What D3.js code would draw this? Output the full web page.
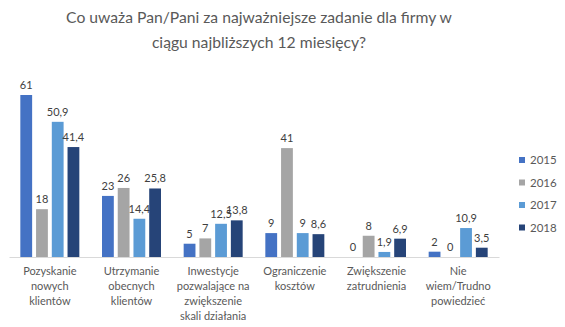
<!DOCTYPE html>
<html>
<head>
<meta charset="utf-8">
<script src="https://cdn.jsdelivr.net/npm/d3@7/dist/d3.min.js"></script>
<style>
  html, body { margin: 0; padding: 0; background: #fff; }
  svg { display: block; font-family: Lato, "Open Sans", sans-serif; }
</style>
</head>
<body>
<svg id="chart" width="565" height="327"></svg>
<script>
const titleLines = ["Co uważa Pan/Pani za najważniejsze zadanie dla firmy w", "ciągu najbliższych 12 miesięcy?"];
const categories = [
  ["Pozyskanie", "nowych", "klientów"],
  ["Utrzymanie", "obecnych", "klientów"],
  ["Inwestycje", "pozwalające na", "zwiększenie", "skali działania"],
  ["Ograniczenie", "kosztów"],
  ["Zwiększenie", "zatrudnienia"],
  ["Nie", "wiem/Trudno", "powiedzieć"]
];
const years = ["2015", "2016", "2017", "2018"];
const colors = ["#4472C4", "#A5A5A5", "#5B9BD5", "#264478"];
const values2015 = [61, 23, 5, 9, 0, 2];
const values2016 = [18, 26, 7, 41, 8, 0];
const values2017 = [50.9, 14.4, 12.5, 9, 1.9, 10.9];
const values2018 = [41.4, 25.8, 13.8, 8.6, 6.9, 3.5];
const series = [values2015, values2016, values2017, values2018];

const svg = d3.select("#chart");
const baseline = 257;

const x0 = d3.scaleBand().domain(d3.range(categories.length)).range([9, 499]);
const x1 = d3.scaleBand().domain(d3.range(years.length)).range([0, 59]).paddingInner(0.25);
const groupOffset = (x0.bandwidth() - 59) / 2;
const y = d3.scaleLinear().domain([0, 61]).range([baseline, 95]);

const fmt = v => String(v).replace(".", ",");

// title
svg.append("g").selectAll("text").data(titleLines).join("text")
  .attr("x", 259).attr("y", (d, i) => 23 + i * 25)
  .attr("text-anchor", "middle")
  .attr("font-size", 15.7).attr("fill", "#595959")
  .text(d => d);

// bars and value labels
const groups = svg.append("g").selectAll("g").data(categories).join("g")
  .attr("transform", (d, i) => `translate(${x0(i) + groupOffset},0)`);

groups.each(function (c, ci) {
  const g = d3.select(this);
  series.forEach((vals, si) => {
    const v = vals[ci];
    g.append("rect")
      .attr("x", x1(si)).attr("width", x1.bandwidth())
      .attr("y", y(v)).attr("height", baseline - y(v))
      .attr("fill", colors[si]);
    g.append("text")
      .attr("x", x1(si) + x1.bandwidth() / 2)
      .attr("y", y(v) - 6)
      .attr("text-anchor", "middle")
      .attr("font-size", 11).attr("fill", "#404040")
      .text(fmt(v));
  });
});

// category axis
const axis = svg.append("g").attr("transform", `translate(0,${baseline})`)
  .call(d3.axisBottom(x0).tickSize(0).tickFormat(""));
axis.select(".domain").attr("stroke", "#d9d9d9");

svg.append("g").selectAll("text").data(categories).join("text")
  .attr("x", (d, i) => x0(i) + x0.bandwidth() / 2)
  .attr("y", 275)
  .attr("text-anchor", "middle")
  .attr("font-size", 11).attr("fill", "#595959")
  .each(function (lines) {
    d3.select(this).selectAll("tspan").data(lines).join("tspan")
      .attr("x", d3.select(this).attr("x"))
      .attr("dy", (d, i) => i === 0 ? 0 : 15)
      .text(d => d);
  });

// legend
const legend = svg.append("g").selectAll("g").data(years).join("g")
  .attr("transform", (d, i) => `translate(519,${157 + i * 22.5})`);
legend.append("rect").attr("width", 6).attr("height", 6).attr("fill", (d, i) => colors[i]);
legend.append("text").attr("x", 11).attr("y", 7)
  .attr("font-size", 11.5).attr("fill", "#595959").text(d => d);
</script>
</body>
</html>
